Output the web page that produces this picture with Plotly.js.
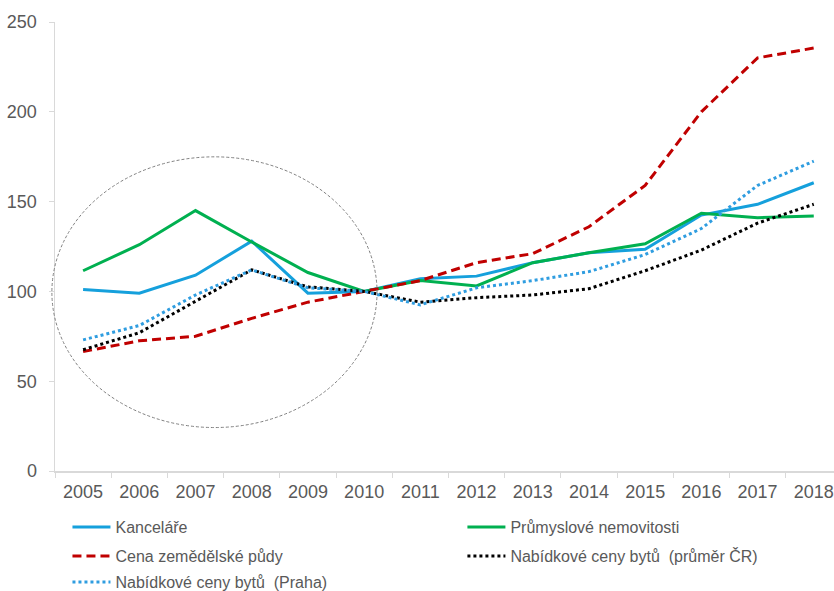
<!DOCTYPE html>
<html>
<head>
<meta charset="utf-8">
<script src="https://cdn.plot.ly/plotly-3.0.1.min.js"></script>
<style>html,body{margin:0;padding:0;background:#fff;overflow:hidden}</style>
</head>
<body>
<div id="chart" style="width:834px;height:591px"></div>
<script>
const years = ['2005','2006','2007','2008','2009','2010','2011','2012','2013','2014','2015','2016','2017','2018'];
const kancelare = [101, 99, 109, 128, 99, 100, 107, 108.5, 116, 121.5, 123.5, 142.5, 148.5, 160.5];
const prumyslove = [111.5, 126, 145, 127.5, 110.5, 100, 106, 103, 116, 121.5, 126.5, 143.5, 141, 142];
const cenaPudy = [66.5, 72.5, 75, 85, 94, 100, 106, 116, 121, 136, 159, 200, 230, 235.5];
const bytyCR = [67.5, 77, 94.5, 112, 102.5, 100, 94, 96.5, 98, 101.5, 111.5, 123, 138, 148.5];
const bytyPraha = [73, 81, 98, 112, 102, 100, 92.5, 102, 106, 111, 120.5, 135, 159, 172.5];
const seriesNames = ['Kanceláře', 'Průmyslové nemovitosti', 'Cena zemědělské půdy', 'Nabídkové ceny bytů  (průměr ČR)', 'Nabídkové ceny bytů  (Praha)'];

const FONT = '"Liberation Sans", Arial, sans-serif';
const traces = [
  {x: years, y: kancelare, name: seriesNames[0], legend: 'legend', mode: 'lines', line: {color: '#15a0dc', width: 3}},
  {x: years, y: prumyslove, name: seriesNames[1], legend: 'legend2', mode: 'lines', line: {color: '#00b050', width: 3}},
  {x: years, y: cenaPudy, name: seriesNames[2], legend: 'legend3', mode: 'lines', line: {color: '#c00000', width: 3, dash: '9px,5px'}},
  {x: years, y: bytyCR, name: seriesNames[3], legend: 'legend4', mode: 'lines', line: {color: '#000000', width: 3, dash: 'dot'}},
  {x: years, y: bytyPraha, name: seriesNames[4], legend: 'legend5', mode: 'lines', line: {color: '#2f9de0', width: 3, dash: 'dot'}}
];

function legendAt(x, y) {
  return {
    orientation: 'h', x: x, xanchor: 'left', y: y, yanchor: 'top',
    itemwidth: 38,
    font: {family: FONT, size: 16, color: '#595959'},
    bgcolor: 'rgba(0,0,0,0)', traceorder: 'normal'
  };
}
const colA = 0.016, colB = 0.523;
const rowA = -0.0869, rowB = -0.1514, rowC = -0.2094;

const layout = {
  width: 834, height: 591,
  margin: {l: 55, r: 0, t: 22, b: 120, pad: 0, autoexpand: false},
  paper_bgcolor: '#ffffff', plot_bgcolor: '#ffffff',
  font: {family: FONT, color: '#595959', size: 16},
  showlegend: true,
  xaxis: {
    type: 'category', range: [-0.5, 13.36],
    showline: true, linecolor: '#d9d9d9', linewidth: 1.5,
    ticks: 'outside', ticklen: 5, tickcolor: '#d9d9d9', tickwidth: 1, tickson: 'boundaries',
    ticklabelstandoff: 4,
    tickfont: {family: FONT, size: 18, color: '#595959'},
    showgrid: false, zeroline: false, fixedrange: true, automargin: false
  },
  yaxis: {
    range: [0, 250], dtick: 50, tick0: 0,
    showline: true, linecolor: '#d9d9d9', linewidth: 1.5,
    ticks: 'outside', ticklen: 5, tickcolor: '#d9d9d9', tickwidth: 1,
    ticklabelstandoff: 8,
    tickfont: {family: FONT, size: 18, color: '#595959'},
    showgrid: false, zeroline: false, fixedrange: true, automargin: false
  },
  legend: legendAt(colA, rowA),
  legend2: legendAt(colB, rowA),
  legend3: legendAt(colA, rowB),
  legend4: legendAt(colB, rowB),
  legend5: legendAt(colA, rowC),
  shapes: [{
    type: 'circle', xref: 'paper', yref: 'paper',
    x0: -0.004, x1: 0.4134, y0: 0.0968, y1: 0.6997,
    line: {color: '#808080', width: 1, dash: '3px,2px'},
    layer: 'above'
  }]
};

Plotly.newPlot('chart', traces, layout, {displayModeBar: false, staticPlot: true});
</script>
</body>
</html>
